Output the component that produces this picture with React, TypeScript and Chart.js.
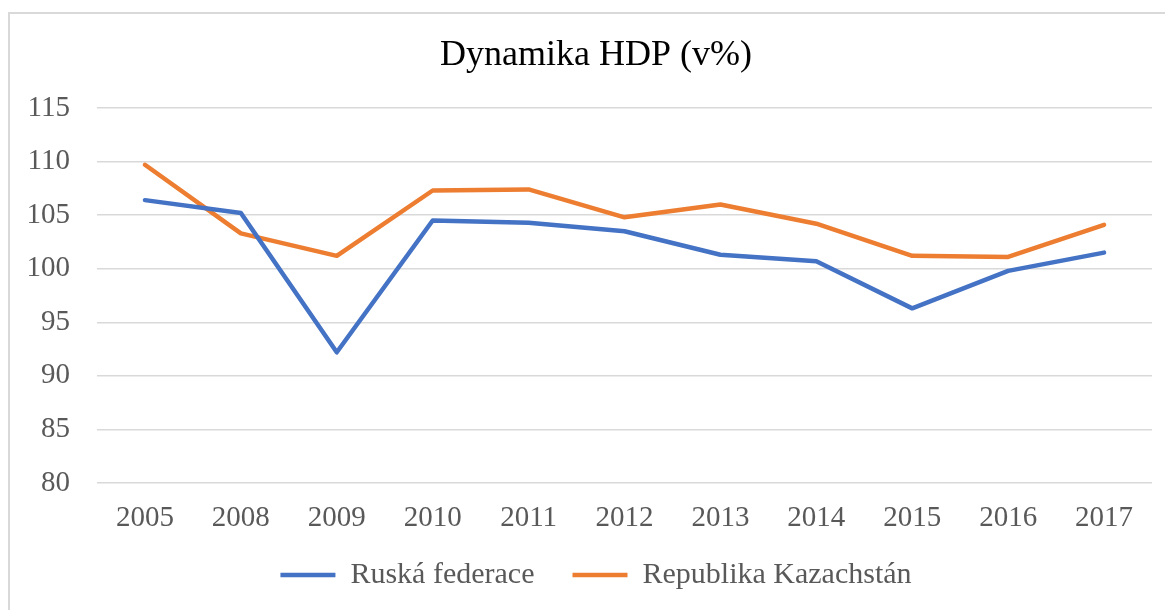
import { useEffect, useRef } from 'react';
import { Chart, registerables } from 'chart.js';

Chart.register(...registerables);

const categories = ['2005', '2008', '2009', '2010', '2011', '2012', '2013', '2014', '2015', '2016', '2017'];
const ruskaFederace = [106.4, 105.2, 92.2, 104.5, 104.3, 103.5, 101.3, 100.7, 96.3, 99.8, 101.5];
const republikaKazachstan = [109.7, 103.3, 101.2, 107.3, 107.4, 104.8, 106.0, 104.2, 101.2, 101.1, 104.1];
const seriesNames = ['Ruská federace', 'Republika Kazachstán'];
const titleText = 'Dynamika HDP (v%)';
const yMin = 80;
const yMax = 115;
const yStep = 5;

const FONT = '"Liberation Serif", "Times New Roman", serif';

// let the tick labels extend beyond their scale boxes without being clipped
const widenLabelArea = {
  id: 'widenLabelArea',
  afterLayout(chart: any) {
    if (chart.scales.y) chart.scales.y.left = 0;
    if (chart.scales.x) chart.scales.x.bottom = chart.height;
  },
};

export default function App() {
  const ref = useRef<HTMLCanvasElement>(null);

  useEffect(() => {
    const chart = new Chart(ref.current!, {
      type: 'line',
      data: {
        labels: categories,
        datasets: [
          {
            label: seriesNames[0],
            data: ruskaFederace,
            borderColor: '#4472C4',
            backgroundColor: '#4472C4',
            borderWidth: 4.5,
            pointRadius: 0,
            tension: 0,
            borderCapStyle: 'round',
            borderJoinStyle: 'round',
          },
          {
            label: seriesNames[1],
            data: republikaKazachstan,
            borderColor: '#ED7D31',
            backgroundColor: '#ED7D31',
            borderWidth: 4.5,
            pointRadius: 0,
            tension: 0,
            borderCapStyle: 'round',
            borderJoinStyle: 'round',
          },
        ],
      },
      options: {
        responsive: false,
        animation: false,
        layout: { padding: { left: 40, right: 13, top: 0, bottom: 40 } },
        plugins: {
          tooltip: { enabled: false },
          title: {
            display: true,
            text: titleText,
            color: '#000000',
            font: { family: FONT, size: 36, weight: 'normal' },
            padding: { top: 34, bottom: 30.8 },
          },
          legend: {
            position: 'bottom',
            labels: {
              usePointStyle: true,
              pointStyle: 'line',
              pointStyleWidth: 55,
              color: '#595959',
              font: { family: FONT, size: 30 },
              padding: 38,
            },
          },
        },
        scales: {
          x: {
            offset: true,
            grid: { display: false, drawTicks: true, tickLength: 31 },
            border: { display: false },
            ticks: {
              color: '#595959',
              font: { family: FONT, size: 29, lineHeight: 0.2 },
              padding: 1.1,
              maxRotation: 0,
            },
          },
          y: {
            min: yMin,
            max: yMax,
            afterFit: (scale: any) => {
              scale.width = 57;
            },
            grid: { color: '#D9D9D9', lineWidth: 1.5, drawTicks: false },
            border: { display: false },
            ticks: {
              stepSize: yStep,
              color: '#595959',
              font: { family: FONT, size: 29 },
              padding: 27,
            },
          },
        },
      },
      plugins: [widenLabelArea],
    });
    return () => chart.destroy();
  }, []);

  return (
    <div
      style={{
        position: 'fixed',
        left: 0,
        top: 0,
        width: 1165,
        height: 610,
        overflow: 'hidden',
        background: '#ffffff',
      }}
    >
      <canvas
        ref={ref}
        width={1165}
        height={640}
        style={{ position: 'absolute', left: 0, top: 0, width: 1165, height: 640 }}
      />
      <div
        style={{
          position: 'absolute',
          left: 8,
          top: 12,
          width: 1200,
          height: 700,
          borderLeft: '2px solid #D9D9D9',
          borderTop: '2px solid #D9D9D9',
          pointerEvents: 'none',
        }}
      />
    </div>
  );
}
